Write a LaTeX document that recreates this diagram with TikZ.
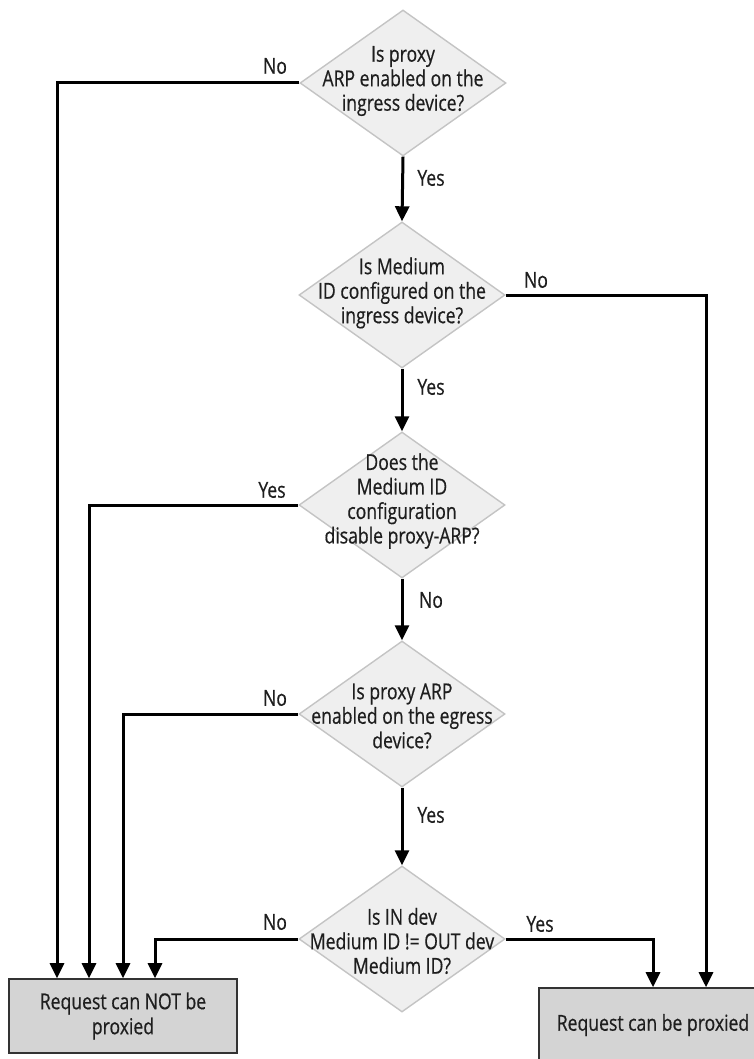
\documentclass[tikz,border=0pt]{standalone}
\usepackage{fontspec}
\setmainfont{Open Sans}[FakeStretch=0.8,FakeBold=0.5]
\usetikzlibrary{shapes.geometric,arrows.meta}
\definecolor{txt}{HTML}{1E1E1E}
\definecolor{dfill}{HTML}{EFEFEF}
\definecolor{dline}{HTML}{C4C4C4}
\definecolor{bfill}{HTML}{D4D4D4}
\definecolor{bline}{HTML}{333333}
\tikzset{
  dia/.style={diamond, draw=dline, fill=dfill, line width=1.4pt, minimum width=206pt, minimum height=146pt, inner sep=0pt},
  dtext/.style={align=center, text=txt, font=\fontsize{22}{24.5}\selectfont, inner sep=0pt},
  endbox/.style={rectangle, draw=bline, fill=bfill, line width=1.6pt, minimum width=228pt, minimum height=74pt, align=center, text=txt, font=\fontsize{22}{25}\selectfont, inner sep=0pt},
  lbl/.style={text=txt, font=\fontsize{22}{24}\selectfont, inner sep=0pt},
  flow/.style={line width=3pt, draw=black, -{Triangle[width=14pt,length=15pt]}},
}
\begin{document}
\begin{tikzpicture}[x=1pt,y=-1pt]
\useasboundingbox (0,0) rectangle (753,1059);
\fill[white] (0,0) rectangle (753,1059);
% decisions
\node[dia] (d1) at (403,83) {};
\node[dtext] (t1) at (403,81) {Is proxy\\ARP enabled on the\\ingress device?};
\node[dia] (d2) at (402,295) {};
\node[dtext] (t2) at (402,293) {Is Medium\\ID configured on the\\ingress device?};
\node[dia] (d3) at (402,505) {};
\node[dtext] (t3) at (402,501) {Does the\\Medium ID\\configuration\\disable proxy-ARP?};
\node[dia] (d4) at (402,714) {};
\node[dtext] (t4) at (402,716) {Is proxy ARP\\enabled on the egress\\device?};
\node[dia] (d5) at (402,939) {};
\node[dtext] (t5) at (402,941) {Is IN dev\\Medium ID != OUT dev\\Medium ID?};
% end boxes
\node[endbox] (b1) at (123,1016) {Request can NOT be\\proxied};
\node[endbox] (b2) at (653,1025) {Request can be proxied};
% x positions of the vertical runs
\coordinate (xa) at (57,0);
\coordinate (xb) at (89,0);
\coordinate (xc) at (123,0);
\coordinate (xd) at (155,0);
\coordinate (xe) at (653,0);
\coordinate (xf) at (706,0);
% connectors
\draw[flow] (d1.south) -- (d2.north);
\draw[flow] (d2.south) -- (d3.north);
\draw[flow] (d3.south) -- (d4.north);
\draw[flow] (d4.south) -- (d5.north);
\draw[flow] (d1.west) -| (xa |- b1.north);
\draw[flow] (d3.west) -| (xb |- b1.north);
\draw[flow] (d4.west) -| (xc |- b1.north);
\draw[flow] (d5.west) -| (xd |- b1.north);
\draw[flow] (d2.east) -| (xf |- b2.north);
\draw[flow] (d5.east) -| (xe |- b2.north);
% labels
\node[lbl] (l1) at (275,66) {No};
\node[lbl] (l2) at (431,178) {Yes};
\node[lbl] (l3) at (536,280) {No};
\node[lbl] (l4) at (431,387) {Yes};
\node[lbl] (l5) at (272,490) {Yes};
\node[lbl] (l6) at (431,600) {No};
\node[lbl] (l7) at (275,698) {No};
\node[lbl] (l8) at (431,815) {Yes};
\node[lbl] (l9) at (275,922) {No};
\node[lbl] (l10) at (540,924) {Yes};
\end{tikzpicture}
\end{document}
